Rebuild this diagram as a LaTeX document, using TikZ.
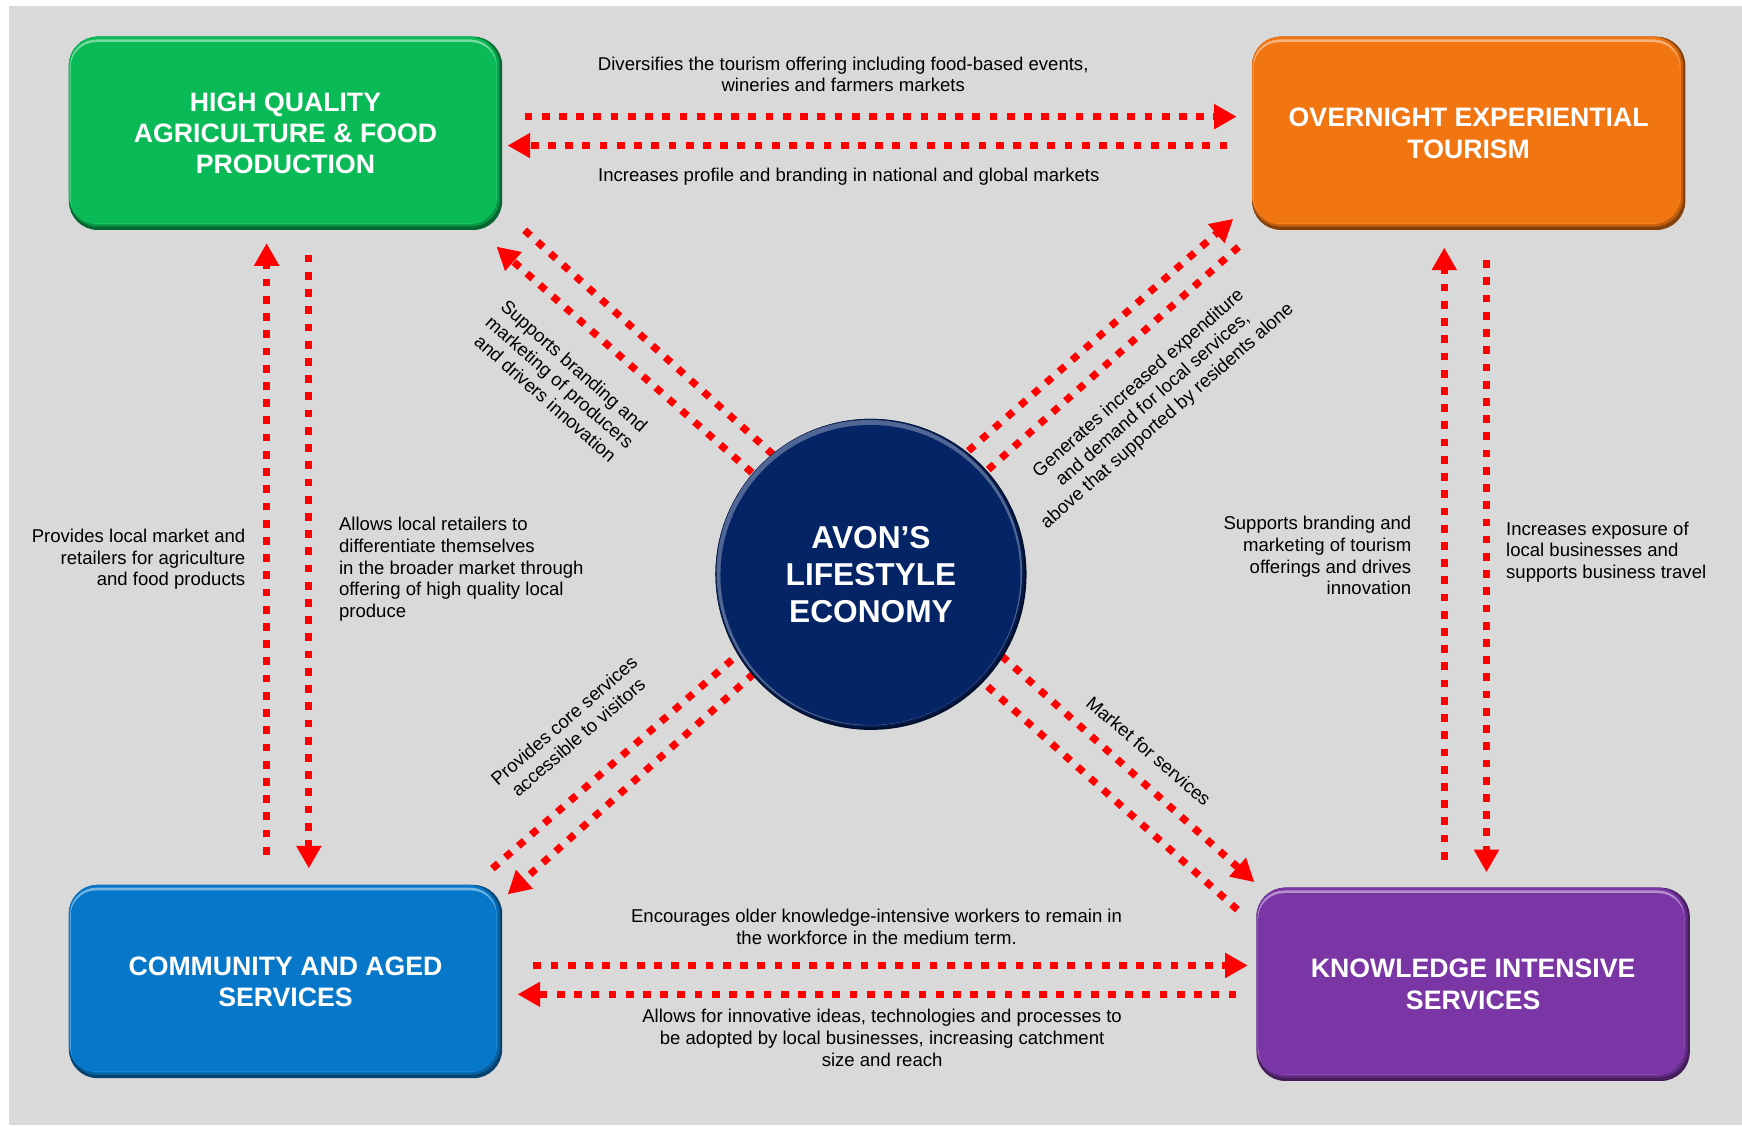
\documentclass[tikz,border=0pt]{standalone}
\usepackage{fontspec}
\setmainfont{Liberation Sans}
\usetikzlibrary{arrows.meta,calc}
\definecolor{bggray}{RGB}{217,217,217}
\definecolor{grn}{RGB}{9,186,86}
\definecolor{org}{RGB}{241,117,17}
\definecolor{blu}{RGB}{7,120,201}
\definecolor{prp}{RGB}{123,54,166}
\definecolor{nvy}{RGB}{5,36,102}
\definecolor{arrred}{RGB}{255,0,0}
\pgfdeclarelayer{bg}
\pgfdeclarelayer{mid}
\pgfsetlayers{bg,mid,main}
\newcommand\lblfont{\fontsize{16.7}{19.6}\selectfont}
\newcommand\ttlfont{\fontsize{24}{28}\selectfont\bfseries}
\newcommand\ctrfont{\fontsize{28.5}{33.5}\selectfont\bfseries}
\begin{document}
\begin{tikzpicture}[x=1pt,y=-1pt,
  box/.style={rectangle, rounded corners=26pt, minimum width=390pt, minimum height=174pt,
    inner sep=0pt, text=white, font=\ttlfont, align=center},
  bevel/.style={fill=#1!55!black, path picture={
    \fill[#1!80!black, rounded corners=26pt] (path picture bounding box.north west) rectangle ([shift={(-2,-3)}]path picture bounding box.south east);
    \fill[#1, rounded corners=26pt] (path picture bounding box.north west) rectangle ([shift={(-4,-5)}]path picture bounding box.south east);
    \fill[#1!55!white, rounded corners=24pt] ([shift={(1,2.5)}]path picture bounding box.north west) rectangle ([shift={(-5,-6)}]path picture bounding box.south east);
    \fill[#1, rounded corners=23pt] ([shift={(1.5,5)}]path picture bounding box.north west) rectangle ([shift={(-5,-6)}]path picture bounding box.south east);
  }},
  hub/.style={circle, minimum size=280pt, inner sep=0pt, text=white, font=\ctrfont, align=center,
    fill=nvy!45!black, path picture={
    \fill[nvy!75!black] ($(path picture bounding box.center)+(-1,-1)$) circle (139pt);
    \fill[nvy!70!white] ($(path picture bounding box.center)+(-1.5,-1.5)$) circle (137.5pt);
    \fill[nvy] ($(path picture bounding box.center)+(-0.5,0.5)$) circle (135pt);
  }},
  lbl/.style={font=\lblfont, text=black, inner sep=0pt},
  dotarr/.style={draw=arrred, line width=6.5pt, dash pattern=on 7pt off 8.5pt,
    -{Triangle[length=20pt,width=23pt,line width=0pt]}}
]
\useasboundingbox (0,0) rectangle (1568,1013);
\begin{pgfonlayer}{bg}
\fill[white] (0,0) rectangle (1568,1013);
\fill[bggray] (8.5,5.5) rectangle (1568,1013);
\end{pgfonlayer}

% boxes
\node[box, bevel=grn] (green) at (257,120) {HIGH QUALITY\\AGRICULTURE \& FOOD\\PRODUCTION};
\node[box, bevel=org] (orange) at (1322,120) {OVERNIGHT EXPERIENTIAL\\TOURISM};
\node[box, bevel=blu] (blue) at (257,883.5) {COMMUNITY AND AGED\\SERVICES};
\node[box, bevel=prp] (purple) at (1326,886) {KNOWLEDGE INTENSIVE\\SERVICES};
\node[hub] (circ) at (784,517) {AVON’S\\LIFESTYLE\\ECONOMY};

% connectors
\begin{pgfonlayer}{mid}
\draw[dotarr] ($(green.east)+(20,-15)$) -- ($(orange.west)+(-14,-15)$);
\draw[dotarr] ($(orange.west)+(-22,11)$) -- ($(green.east)+(5,11)$);
\draw[dotarr] ($(blue.north)+(-17,-27)$) -- ($(green.south)+(-17,12)$);
\draw[dotarr] ($(green.south)+(21,22)$) -- ($(blue.north)+(21,-15)$);
\draw[dotarr] ($(purple.north)+(-26,-25)$) -- ($(orange.south)+(-22,16)$);
\draw[dotarr] ($(orange.south)+(16,27)$) -- ($(purple.north)+(12,-14)$);
\draw[dotarr] ($(blue.east)+(28,-14.5)$) -- ($(purple.west)+(-8,-17)$);
\draw[dotarr] ($(purple.west)+(-18,9)$) -- ($(blue.east)+(14,11.5)$);
% diagonals
\draw[dotarr] ($(green.south east)+(20,0)$) -- ($(circ.center)+(-64,-86)$);
\draw[dotarr] ($(circ.center)+(-84,-71)$) -- ($(green.south east)+(-5,15)$);
\draw[dotarr] ($(circ.center)+(76,-101)$) -- ($(orange.south west)+(-17,-10)$);
\draw[dotarr] ($(orange.south west)+(-12,15)$) -- ($(circ.center)+(76,-68)$);
\draw[dotarr] ($(blue.north east)+(-9,-14.5)$) -- ($(circ.center)+(-84,41)$);
\draw[dotarr] ($(circ.center)+(-94,79)$) -- ($(blue.north east)+(5,8.5)$);
\draw[dotarr] ($(circ.center)+(106,63)$) -- ($(purple.north west)+(-2,-5)$);
\draw[dotarr] ($(purple.north west)+(-17,20)$) -- ($(circ.center)+(76,75)$);
\end{pgfonlayer}

% labels
\node[lbl, align=center] (t1) at (759,67) {Diversifies the tourism offering including food-based events,\\wineries and farmers markets};
\node[lbl] (t2) at (764,159) {Increases profile and branding in national and global markets};
\node[lbl, align=right, anchor=east] (l1) at (221,503.5) {Provides local market and\\retailers for agriculture\\and food products};
\node[lbl, align=left, anchor=west] (l2) at (305,512.5) {Allows local retailers to\\differentiate themselves\\in the broader market through\\offering of high quality local\\produce};
\node[lbl, align=right, anchor=east] (r1) at (1270.5,500) {Supports branding and\\marketing of tourism\\offerings and drives\\innovation};
\node[lbl, align=left, anchor=west] (r2) at (1355.5,497) {Increases exposure of\\local businesses and\\supports business travel};
\node[lbl, align=center] (b1) at (789,834.5) {Encourages older knowledge-intensive workers to remain in\\the workforce in the medium term.};
\node[lbl, align=center] (b2) at (794,934) {Allows for innovative ideas, technologies and processes to\\be adopted by local businesses, increasing catchment\\size and reach};
\node[lbl, align=center, rotate=-41.5] (dnw) at (504,344) {Supports branding and\\marketing of producers\\and drivers innovation};
\node[lbl, align=center, rotate=41.5] (dne) at (1038,360) {Generates increased expenditure\\and demand for local services,\\above that supported by residents alone};
\node[lbl, align=center, rotate=41] (dsw) at (514,656) {Provides core services\\accessible to visitors};
\node[lbl, rotate=-40.5] (dse) at (1034,676) {Market for services};
\end{tikzpicture}
\end{document}
